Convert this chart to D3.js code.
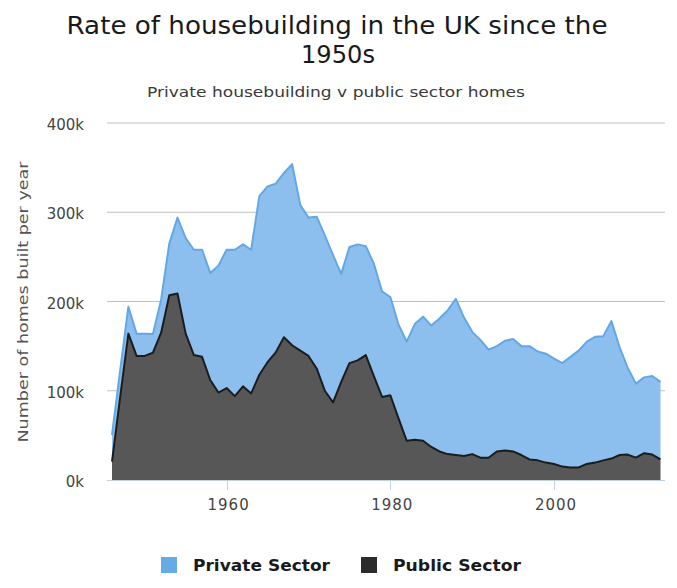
<!DOCTYPE html>
<html>
<head>
<meta charset="utf-8">
<script src="https://cdn.jsdelivr.net/npm/d3@7"></script>
<style>
    body { margin: 0; background: #fff; }
    text { font-family: "DejaVu Sans", Verdana, sans-serif; }
</style>
</head>
<body>
<div id="chart"></div>
<script>
// homes completed per year
const years = [1946, 1947, 1948, 1949, 1950, 1951, 1952, 1953, 1954, 1955,
    1956, 1957, 1958, 1959, 1960, 1961, 1962, 1963, 1964, 1965,
    1966, 1967, 1968, 1969, 1970, 1971, 1972, 1973, 1974, 1975,
    1976, 1977, 1978, 1979, 1980, 1981, 1982, 1983, 1984, 1985,
    1986, 1987, 1988, 1989, 1990, 1991, 1992, 1993, 1994, 1995,
    1996, 1997, 1998, 1999, 2000, 2001, 2002, 2003, 2004, 2005,
    2006, 2007, 2008, 2009, 2010, 2011, 2012, 2013];

const privateSector = [30000, 30000, 30000, 25000, 25000, 21000, 37000, 58000, 85000, 107000,
    118000, 120000, 120000, 142000, 155000, 164000, 159000, 161000, 200000, 197000,
    189000, 184000, 203000, 163000, 155000, 170000, 174000, 165000, 121000, 130000,
    130000, 122000, 126000, 118000, 110000, 105000, 111000, 130000, 139000, 136000,
    149000, 161000, 175000, 155000, 137000, 132000, 121000, 118000, 123000, 126000,
    122000, 127000, 122000, 122000, 118000, 116000, 124000, 131000, 137000, 141000,
    139000, 154000, 121000, 97000, 83000, 85000, 88000, 87000];

const publicSector = [20500, 93000, 164000, 139000, 139000, 142600, 165000, 207000, 209000, 164000,
    140000, 138000, 112000, 98000, 103000, 94000, 105000, 97000, 118000, 132000,
    143000, 160000, 151000, 145000, 139000, 125000, 100000, 87000, 110000, 131000,
    134000, 140000, 116000, 93000, 95000, 69000, 44000, 45000, 44000, 37000,
    32000, 29000, 28000, 27000, 29000, 25000, 25000, 32000, 33000, 32000,
    28000, 23000, 22000, 19500, 18000, 15000, 14000, 14000, 18000, 19500,
    22000, 24000, 28000, 28500, 25000, 30000, 28500, 23000];

const yTicks = [0, 100000, 200000, 300000, 400000];
const xTicks = [1960, 1980, 2000];

const seriesNames = ["Private Sector", "Public Sector"];

const width = 677, height = 588;
const plot = { left: 107, right: 665, top: 123, bottom: 480 };

const svg = d3.select("#chart").append("svg")
    .attr("width", width)
    .attr("height", height);

svg.append("rect")
    .attr("width", width)
    .attr("height", height)
    .attr("fill", "#fff");

// titles
svg.append("text")
    .attr("x", 337).attr("y", 34)
    .attr("text-anchor", "middle")
    .attr("font-size", 24)
    .attr("fill", "#1a1a1a")
    .attr("textLength", 541)
    .attr("lengthAdjust", "spacingAndGlyphs")
    .text("Rate of housebuilding in the UK since the");

svg.append("text")
    .attr("x", 338).attr("y", 63)
    .attr("text-anchor", "middle")
    .attr("font-size", 24)
    .attr("fill", "#1a1a1a")
    .attr("textLength", 74)
    .attr("lengthAdjust", "spacingAndGlyphs")
    .text("1950s");

svg.append("text")
    .attr("x", 336).attr("y", 97)
    .attr("text-anchor", "middle")
    .attr("font-size", 14)
    .attr("fill", "#3a3a3a")
    .attr("textLength", 378)
    .attr("lengthAdjust", "spacingAndGlyphs")
    .text("Private housebuilding v public sector homes");

const x = d3.scaleLinear()
    .domain([1946, 2013])
    .range([112, 660.5]);

const y = d3.scaleLinear()
    .domain([0, 400000])
    .range([plot.bottom, plot.top]);

// gridlines
svg.append("g")
    .selectAll("line")
    .data(yTicks.filter(d => d > 0))
    .join("line")
    .attr("x1", plot.left).attr("x2", plot.right)
    .attr("y1", d => y(d)).attr("y2", d => y(d))
    .attr("stroke", "#c0c0c0")
    .attr("stroke-width", 1);

// stacked areas
const table = years.map((yr, i) => ({
    year: yr,
    "Private Sector": privateSector[i],
    "Public Sector": publicSector[i]
}));

const stack = d3.stack().keys(["Public Sector", "Private Sector"]);
const layers = stack(table);

const fills = { "Private Sector": "#8cbfee", "Public Sector": "#575757" };
const strokes = { "Private Sector": "#62a8e6", "Public Sector": "#1c1c1c" };
const legendColors = { "Private Sector": "#66aae6", "Public Sector": "#2b2b2b" };

const area = d3.area()
    .x(d => x(d.data.year))
    .y0(d => y(d[0]))
    .y1(d => y(d[1]));

const topLine = d3.line()
    .x(d => x(d.data.year))
    .y(d => y(d[1]));

// draw private (top) first, public over it
const drawOrder = [layers[1], layers[0]];

svg.append("g")
    .selectAll("path")
    .data(drawOrder)
    .join("path")
    .attr("d", area)
    .attr("fill", d => fills[d.key]);

svg.append("g")
    .selectAll("path")
    .data(drawOrder)
    .join("path")
    .attr("d", topLine)
    .attr("fill", "none")
    .attr("stroke", d => strokes[d.key])
    .attr("stroke-width", 2)
    .attr("stroke-linejoin", "round");

// x axis
const xAxis = svg.append("g");

xAxis.append("line")
    .attr("x1", plot.left).attr("x2", plot.right)
    .attr("y1", plot.bottom + 0.5).attr("y2", plot.bottom + 0.5)
    .attr("stroke", "#c0d0e0");

xAxis.selectAll(".tick")
    .data(xTicks)
    .join("line")
    .attr("class", "tick")
    .attr("x1", d => Math.round(x(d)) + 0.5).attr("x2", d => Math.round(x(d)) + 0.5)
    .attr("y1", plot.bottom).attr("y2", plot.bottom + 10)
    .attr("stroke", "#c0d0e0");

xAxis.selectAll(".label")
    .data(xTicks)
    .join("text")
    .attr("class", "label")
    .attr("x", d => x(d) + 2)
    .attr("y", 510)
    .attr("text-anchor", "middle")
    .attr("font-size", 15)
    .attr("letter-spacing", 1)
    .attr("fill", "#444")
    .text(d => d);

// y axis labels
svg.append("g")
    .selectAll("text")
    .data(yTicks)
    .join("text")
    .attr("x", 84)
    .attr("y", d => y(d) + 7)
    .attr("text-anchor", "end")
    .attr("font-size", 15)
    .attr("fill", "#444")
    .text(d => (d / 1000) + "k");

svg.append("text")
    .attr("transform", "translate(28, 302) rotate(-90)")
    .attr("text-anchor", "middle")
    .attr("font-size", 14)
    .attr("fill", "#555")
    .attr("textLength", 281)
    .attr("lengthAdjust", "spacingAndGlyphs")
    .text("Number of homes built per year");

// legend
const legendX = [161, 361];
const legendW = [137, 128];

const legend = svg.append("g")
    .selectAll("g")
    .data(seriesNames)
    .join("g")
    .attr("transform", (d, i) => `translate(${legendX[i]}, 557)`);

legend.append("rect")
    .attr("width", 16)
    .attr("height", 16)
    .attr("fill", d => legendColors[d]);

legend.append("text")
    .attr("x", 32)
    .attr("y", 14)
    .attr("font-size", 15)
    .attr("font-weight", "bold")
    .attr("fill", "#1a1a1a")
    .attr("textLength", (d, i) => legendW[i])
    .attr("lengthAdjust", "spacingAndGlyphs")
    .text(d => d);
</script>
</body>
</html>
